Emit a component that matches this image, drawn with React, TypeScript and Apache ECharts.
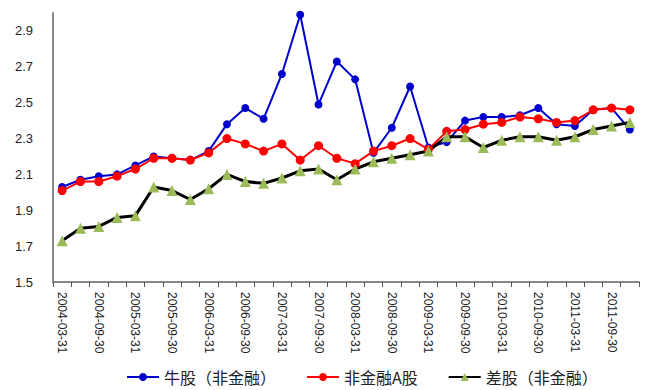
import React, { useEffect, useRef } from "react";
import * as echarts from "echarts";

const categories = [
  "2004-03-31", "2004-06-30", "2004-09-30", "2004-12-31",
  "2005-03-31", "2005-06-30", "2005-09-30", "2005-12-31",
  "2006-03-31", "2006-06-30", "2006-09-30", "2006-12-31",
  "2007-03-31", "2007-06-30", "2007-09-30", "2007-12-31",
  "2008-03-31", "2008-06-30", "2008-09-30", "2008-12-31",
  "2009-03-31", "2009-06-30", "2009-09-30", "2009-12-31",
  "2010-03-31", "2010-06-30", "2010-09-30", "2010-12-31",
  "2011-03-31", "2011-06-30", "2011-09-30", "2011-12-31",
];

const bullStocks = [
  2.03, 2.07, 2.09, 2.10, 2.15, 2.20, 2.19, 2.18,
  2.23, 2.38, 2.47, 2.41, 2.66, 2.99, 2.49, 2.73,
  2.63, 2.22, 2.36, 2.59, 2.25, 2.28, 2.40, 2.42,
  2.42, 2.43, 2.47, 2.38, 2.37, 2.46, 2.47, 2.35,
];

const nonFinA = [
  2.01, 2.06, 2.06, 2.09, 2.13, 2.19, 2.19, 2.18,
  2.22, 2.30, 2.27, 2.23, 2.27, 2.18, 2.26, 2.19,
  2.16, 2.23, 2.26, 2.30, 2.24, 2.34, 2.35, 2.38,
  2.39, 2.42, 2.41, 2.39, 2.40, 2.46, 2.47, 2.46,
];

const poorStocks = [
  1.73, 1.80, 1.81, 1.86, 1.87, 2.03, 2.01, 1.96,
  2.02, 2.10, 2.06, 2.05, 2.08, 2.12, 2.13, 2.07,
  2.13, 2.17, 2.19, 2.21, 2.23, 2.31, 2.31, 2.25,
  2.29, 2.31, 2.31, 2.29, 2.31, 2.35, 2.37, 2.39,
];

const seriesNames = ["牛股（非金融）", "非金融A股", "差股（非金融）"];

export default function App() {
  const ref = useRef<HTMLDivElement>(null);
  useEffect(() => {
    if (!ref.current) return;
    const chart = echarts.init(ref.current, undefined, { renderer: "svg" });
    const font = "'Liberation Sans', Arial, sans-serif";
    chart.setOption({
      animation: false,
      grid: { left: 53, right: 9, top: 13, bottom: 108, containLabel: false },
      legend: {
        top: 366,
        left: 126,
        padding: 0,
        itemWidth: 32,
        itemHeight: 10,
        itemGap: 30,
        textStyle: { fontFamily: "'Noto Sans CJK SC', sans-serif", fontSize: 16, lineHeight: 22, color: "#222" },
        data: seriesNames,
      },
      xAxis: {
        type: "category",
        data: categories,
        boundaryGap: true,
        axisLine: { lineStyle: { color: "#888", width: 2 } },
        axisTick: { show: true, interval: 0, length: 5, lineStyle: { color: "#555", width: 1 } },
        axisLabel: {
          interval: 1,
          rotate: -90,
          margin: 10,
          fontFamily: font,
          fontSize: 12,
          color: "#222",
        },
        splitLine: { show: false },
      },
      yAxis: {
        type: "value",
        min: 1.5,
        max: 3.0,
        interval: 0.2,
        axisLine: { show: true, lineStyle: { color: "#888", width: 2 } },
        axisTick: { show: false },
        splitLine: { show: false },
        axisLabel: {
          showMaxLabel: false,
          margin: 20,
          fontFamily: font,
          fontSize: 13,
          color: "#222",
          formatter: (v: number) => v.toFixed(1),
        },
      },
      series: [
        {
          name: seriesNames[0],
          type: "line",
          data: bullStocks,
          symbol: "circle",
          symbolSize: 8,
          lineStyle: { color: "#0000CC", width: 2 },
          itemStyle: { color: "#0000CC" },
        },
        {
          name: seriesNames[1],
          type: "line",
          data: nonFinA,
          symbol: "circle",
          symbolSize: 9,
          lineStyle: { color: "#FF0000", width: 2 },
          itemStyle: { color: "#FF0000" },
        },
        {
          name: seriesNames[2],
          type: "line",
          data: poorStocks,
          symbol: "triangle",
          symbolSize: 11,
          lineStyle: { color: "#000000", width: 3 },
          itemStyle: { color: "#9BBB59" },
        },
      ],
    });
    return () => chart.dispose();
  }, []);
  return <div ref={ref} style={{ width: 648, height: 390, position: "absolute", left: 0, top: 0 }} />;
}
